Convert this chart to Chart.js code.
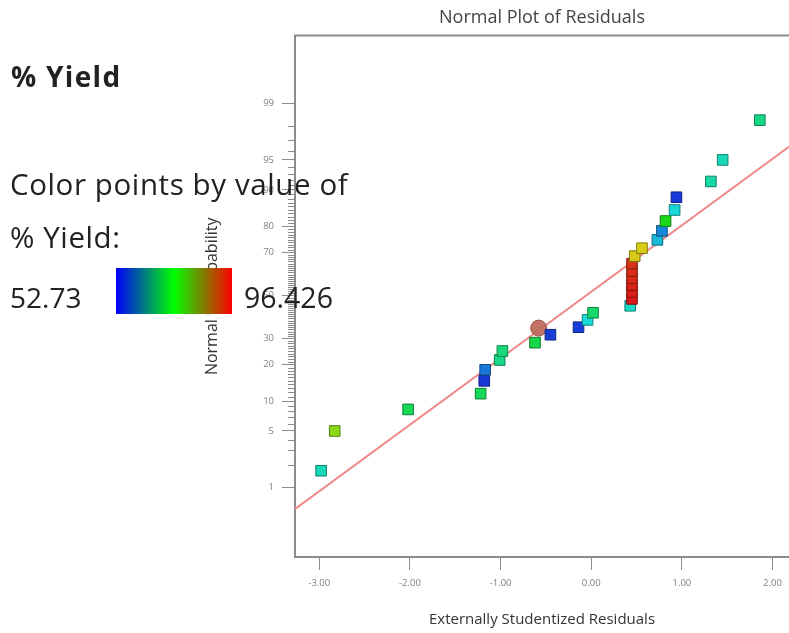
<!DOCTYPE html>
<html>
<head>
<meta charset="utf-8">
<title>Normal Plot of Residuals</title>
<script src="https://cdn.jsdelivr.net/npm/chart.js@4.4.1/dist/chart.umd.min.js"></script>
<style>
  body { margin: 0; background: #fff; overflow: hidden; }
  #wrap { position: relative; width: 789px; height: 633px; }
  #plot { position: absolute; left: 0; top: 0; }
  .note { position: absolute; font-family: "Open Sans", sans-serif; color: #222; white-space: nowrap; line-height: 1; }
  #colorBar { position: absolute; left: 116px; top: 268px; width: 116px; height: 46px;
              background: linear-gradient(to right, #0000ff, #00ff00, #ff0000); }
</style>
</head>
<body>
<div id="wrap">
  <canvas id="plot" width="789" height="633"></canvas>
  <div class="note" style="left:11px; top:62px; font-size:28px; font-weight:bold; letter-spacing:1.3px;">% Yield</div>
  <div class="note" style="left:10px; top:169px; font-size:29.5px; letter-spacing:0.6px;">Color points by value of</div>
  <div class="note" style="left:10px; top:222px; font-size:29.5px; letter-spacing:0.6px;">% Yield:</div>
  <div class="note" id="lowLabel" style="left:10px; top:283px; font-size:28px;"></div>
  <div id="colorBar"></div>
  <div class="note" id="highLabel" style="left:244px; top:283px; font-size:28.5px;"></div>
</div>
<script>
// ----------------------
// DATA (runs sorted by rank)
// ----------------------
const residuals = [-2.98, -2.83, -2.02, -1.22, -1.18, -1.17, -1.01, -0.98, -0.62, -0.45,
                   -0.14, -0.04, 0.02, 0.43, 0.45, 0.45, 0.45, 0.45, 0.45, 0.45,
                   0.48, 0.56, 0.73, 0.78, 0.82, 0.92, 0.94, 1.32, 1.45, 1.86];
const probability = [1.67, 5, 8.33, 11.67, 15, 18.33, 21.67, 25, 28.33, 31.67,
                     35, 38.33, 41.67, 45, 48.33, 51.67, 55, 58.33, 61.67, 65,
                     68.33, 71.67, 75, 78.33, 81.67, 85, 88.33, 91.67, 95, 98.33];
const yieldValues = [65.5, 80.9, 70.9, 70.9, 54.6, 58.2, 68.2, 69.1, 71.8, 54.9,
                     54.9, 63.7, 70.0, 64.6, 96.4, 96.0, 95.8, 95.5, 95.2, 94.9,
                     86.4, 86.0, 61.8, 59.1, 74.6, 63.7, 54.6, 66.4, 65.5, 68.2];
// highlighted run (circle)
const highlightResidual = [-0.58];
const highlightProbability = [34.6];
// normal reference line end points
const lineResidual = [-3.27, 2.19];
const lineProbability = [0.474, 96.5];
// axis ticks
const xTicks = [-3, -2, -1, 0, 1, 2];
const yTickLabels = [1, 5, 10, 20, 30, 50, 70, 80, 90, 95, 99];
// colour scale range
const yieldMin = 52.73;
const yieldMax = 96.426;

const fontFamily = '"Open Sans", sans-serif';
const axisGray = '#8c8c8c';

document.getElementById("lowLabel").textContent = String(yieldMin);
document.getElementById("highLabel").textContent = String(yieldMax);

// ----------------------
// UTIL: inverse normal (probability axis)
// ----------------------
function probit(pct) {
    const p = pct / 100;
    const a = [-3.969683028665376e+01, 2.209460984245205e+02, -2.759285104469687e+02, 1.383577518672690e+02, -3.066479806614716e+01, 2.506628277459239e+00];
    const b = [-5.447609879822406e+01, 1.615858368580409e+02, -1.556989798598866e+02, 6.680131188771972e+01, -1.328068155288572e+01];
    const c = [-7.784894002430293e-03, -3.223964580411365e-01, -2.400758277161838e+00, -2.549671010115381e+00, 4.374664141464968e+00, 2.938163982698783e+00];
    const d = [7.784695709041462e-03, 3.224671290700398e-01, 2.445134137142996e+00, 3.754408661907416e+00];
    const pLow = 0.02425;
    let q, r;
    if (p < pLow) {
        q = Math.sqrt(-2 * Math.log(p));
        return (((((c[0]*q+c[1])*q+c[2])*q+c[3])*q+c[4])*q+c[5]) / ((((d[0]*q+d[1])*q+d[2])*q+d[3])*q+1);
    }
    if (p <= 1 - pLow) {
        q = p - 0.5; r = q * q;
        return (((((a[0]*r+a[1])*r+a[2])*r+a[3])*r+a[4])*r+a[5])*q / (((((b[0]*r+b[1])*r+b[2])*r+b[3])*r+b[4])*r+1);
    }
    q = Math.sqrt(-2 * Math.log(1 - p));
    return -(((((c[0]*q+c[1])*q+c[2])*q+c[3])*q+c[4])*q+c[5]) / ((((d[0]*q+d[1])*q+d[2])*q+d[3])*q+1);
}

// rainbow colour for a yield value (blue = low, red = high)
function yieldColor(v, light) {
    const t = Math.min(1, Math.max(0, (v - yieldMin) / (yieldMax - yieldMin)));
    return `hsl(${Math.round(240 * (1 - t))}, 80%, ${light}%)`;
}

// minor ticks at every whole percent
const yMinorTicks = [];
for (let p = 1; p <= 99; p++) if (!yTickLabels.includes(p)) yMinorTicks.push(p);

// ----------------------
// PLUGIN: top frame line + minor y ticks
// ----------------------
const axisExtras = {
    id: "axisExtras",
    afterDraw(chart) {
        const { ctx, chartArea, scales } = chart;
        ctx.save();
        ctx.strokeStyle = axisGray;
        ctx.lineWidth = 2;
        ctx.beginPath();
        ctx.moveTo(chartArea.left - 1, chartArea.top);
        ctx.lineTo(chartArea.right, chartArea.top);
        ctx.stroke();
        ctx.lineWidth = 1;
        ctx.beginPath();
        yMinorTicks.forEach(p => {
            const py = Math.round(scales.y.getPixelForValue(probit(p))) + 0.5;
            ctx.moveTo(chartArea.left - 7, py);
            ctx.lineTo(chartArea.left, py);
        });
        ctx.stroke();
        ctx.restore();
    }
};

// ----------------------
// CHART
// ----------------------
new Chart(document.getElementById("plot"), {
    type: "scatter",
    data: {
        datasets: [
            {
                label: "Runs",
                data: residuals.map((r, i) => ({ x: r, y: probit(probability[i]) })),
                pointStyle: "rect",
                pointRadius: 7.5,
                backgroundColor: yieldValues.map(v => yieldColor(v, 47)),
                borderColor: yieldValues.map(v => yieldColor(v, 28)),
                borderWidth: 1,
                order: 1
            },
            {
                label: "Highlighted",
                data: highlightResidual.map((r, i) => ({ x: r, y: probit(highlightProbability[i]) })),
                pointStyle: "circle",
                pointRadius: 8,
                backgroundColor: "rgba(188,104,88,0.92)",
                borderColor: "rgba(150,78,66,0.9)",
                borderWidth: 1,
                order: 2
            },
            {
                label: "Normal line",
                data: lineResidual.map((r, i) => ({ x: r, y: probit(lineProbability[i]) })),
                showLine: true,
                fill: false,
                pointRadius: 0,
                borderColor: "#f08a8a",
                borderWidth: 2,
                order: 3
            }
        ]
    },
    options: {
        responsive: false,
        animation: false,
        layout: { padding: 0, autoPadding: false },
        plugins: {
            legend: { display: false },
            tooltip: { enabled: false },
            title: {
                display: true,
                text: "Normal Plot of Residuals",
                fullSize: false,
                color: "#444",
                font: { family: fontFamily, size: 18, weight: "normal" },
                padding: { top: 7, bottom: 7 }
            }
        },
        scales: {
            x: {
                type: "linear",
                min: -3.268,
                max: 2.182,
                afterBuildTicks: s => { s.ticks = xTicks.map(v => ({ value: v })); },
                afterFit: s => { s.height = 76; s.paddingLeft = 0; s.paddingRight = 0; },
                ticks: {
                    callback: v => v.toFixed(2),
                    color: "#808080",
                    font: { family: fontFamily, size: 9.5 },
                    padding: 8,
                    maxRotation: 0,
                    autoSkip: false
                },
                grid: { drawOnChartArea: false, tickLength: 13, tickColor: axisGray, tickWidth: 1 },
                border: { color: axisGray, width: 2 },
                title: {
                    display: true,
                    text: "Externally Studentized Residuals",
                    color: "#333",
                    font: { family: fontFamily, size: 15 },
                    padding: { top: 0, bottom: 4 }
                }
            },
            y: {
                type: "linear",
                min: -3.174,
                max: 3.153,
                afterBuildTicks: s => { s.ticks = yTickLabels.map(p => ({ value: probit(p) })); },
                afterFit: s => { s.width = 295; s.paddingTop = 0; s.paddingBottom = 0; },
                ticks: {
                    callback: (v, i) => String(yTickLabels[i]),
                    color: "#808080",
                    font: { family: fontFamily, size: 9.5 },
                    padding: 8,
                    autoSkip: false
                },
                grid: { drawOnChartArea: false, tickLength: 13, tickColor: axisGray, tickWidth: 1 },
                border: { color: axisGray, width: 2 },
                title: {
                    display: true,
                    text: "Normal % Probability",
                    color: "#333",
                    font: { family: fontFamily, size: 16 },
                    padding: { top: 203, bottom: 0 }
                }
            }
        }
    },
    plugins: [axisExtras]
});
</script>
</body>
</html>
